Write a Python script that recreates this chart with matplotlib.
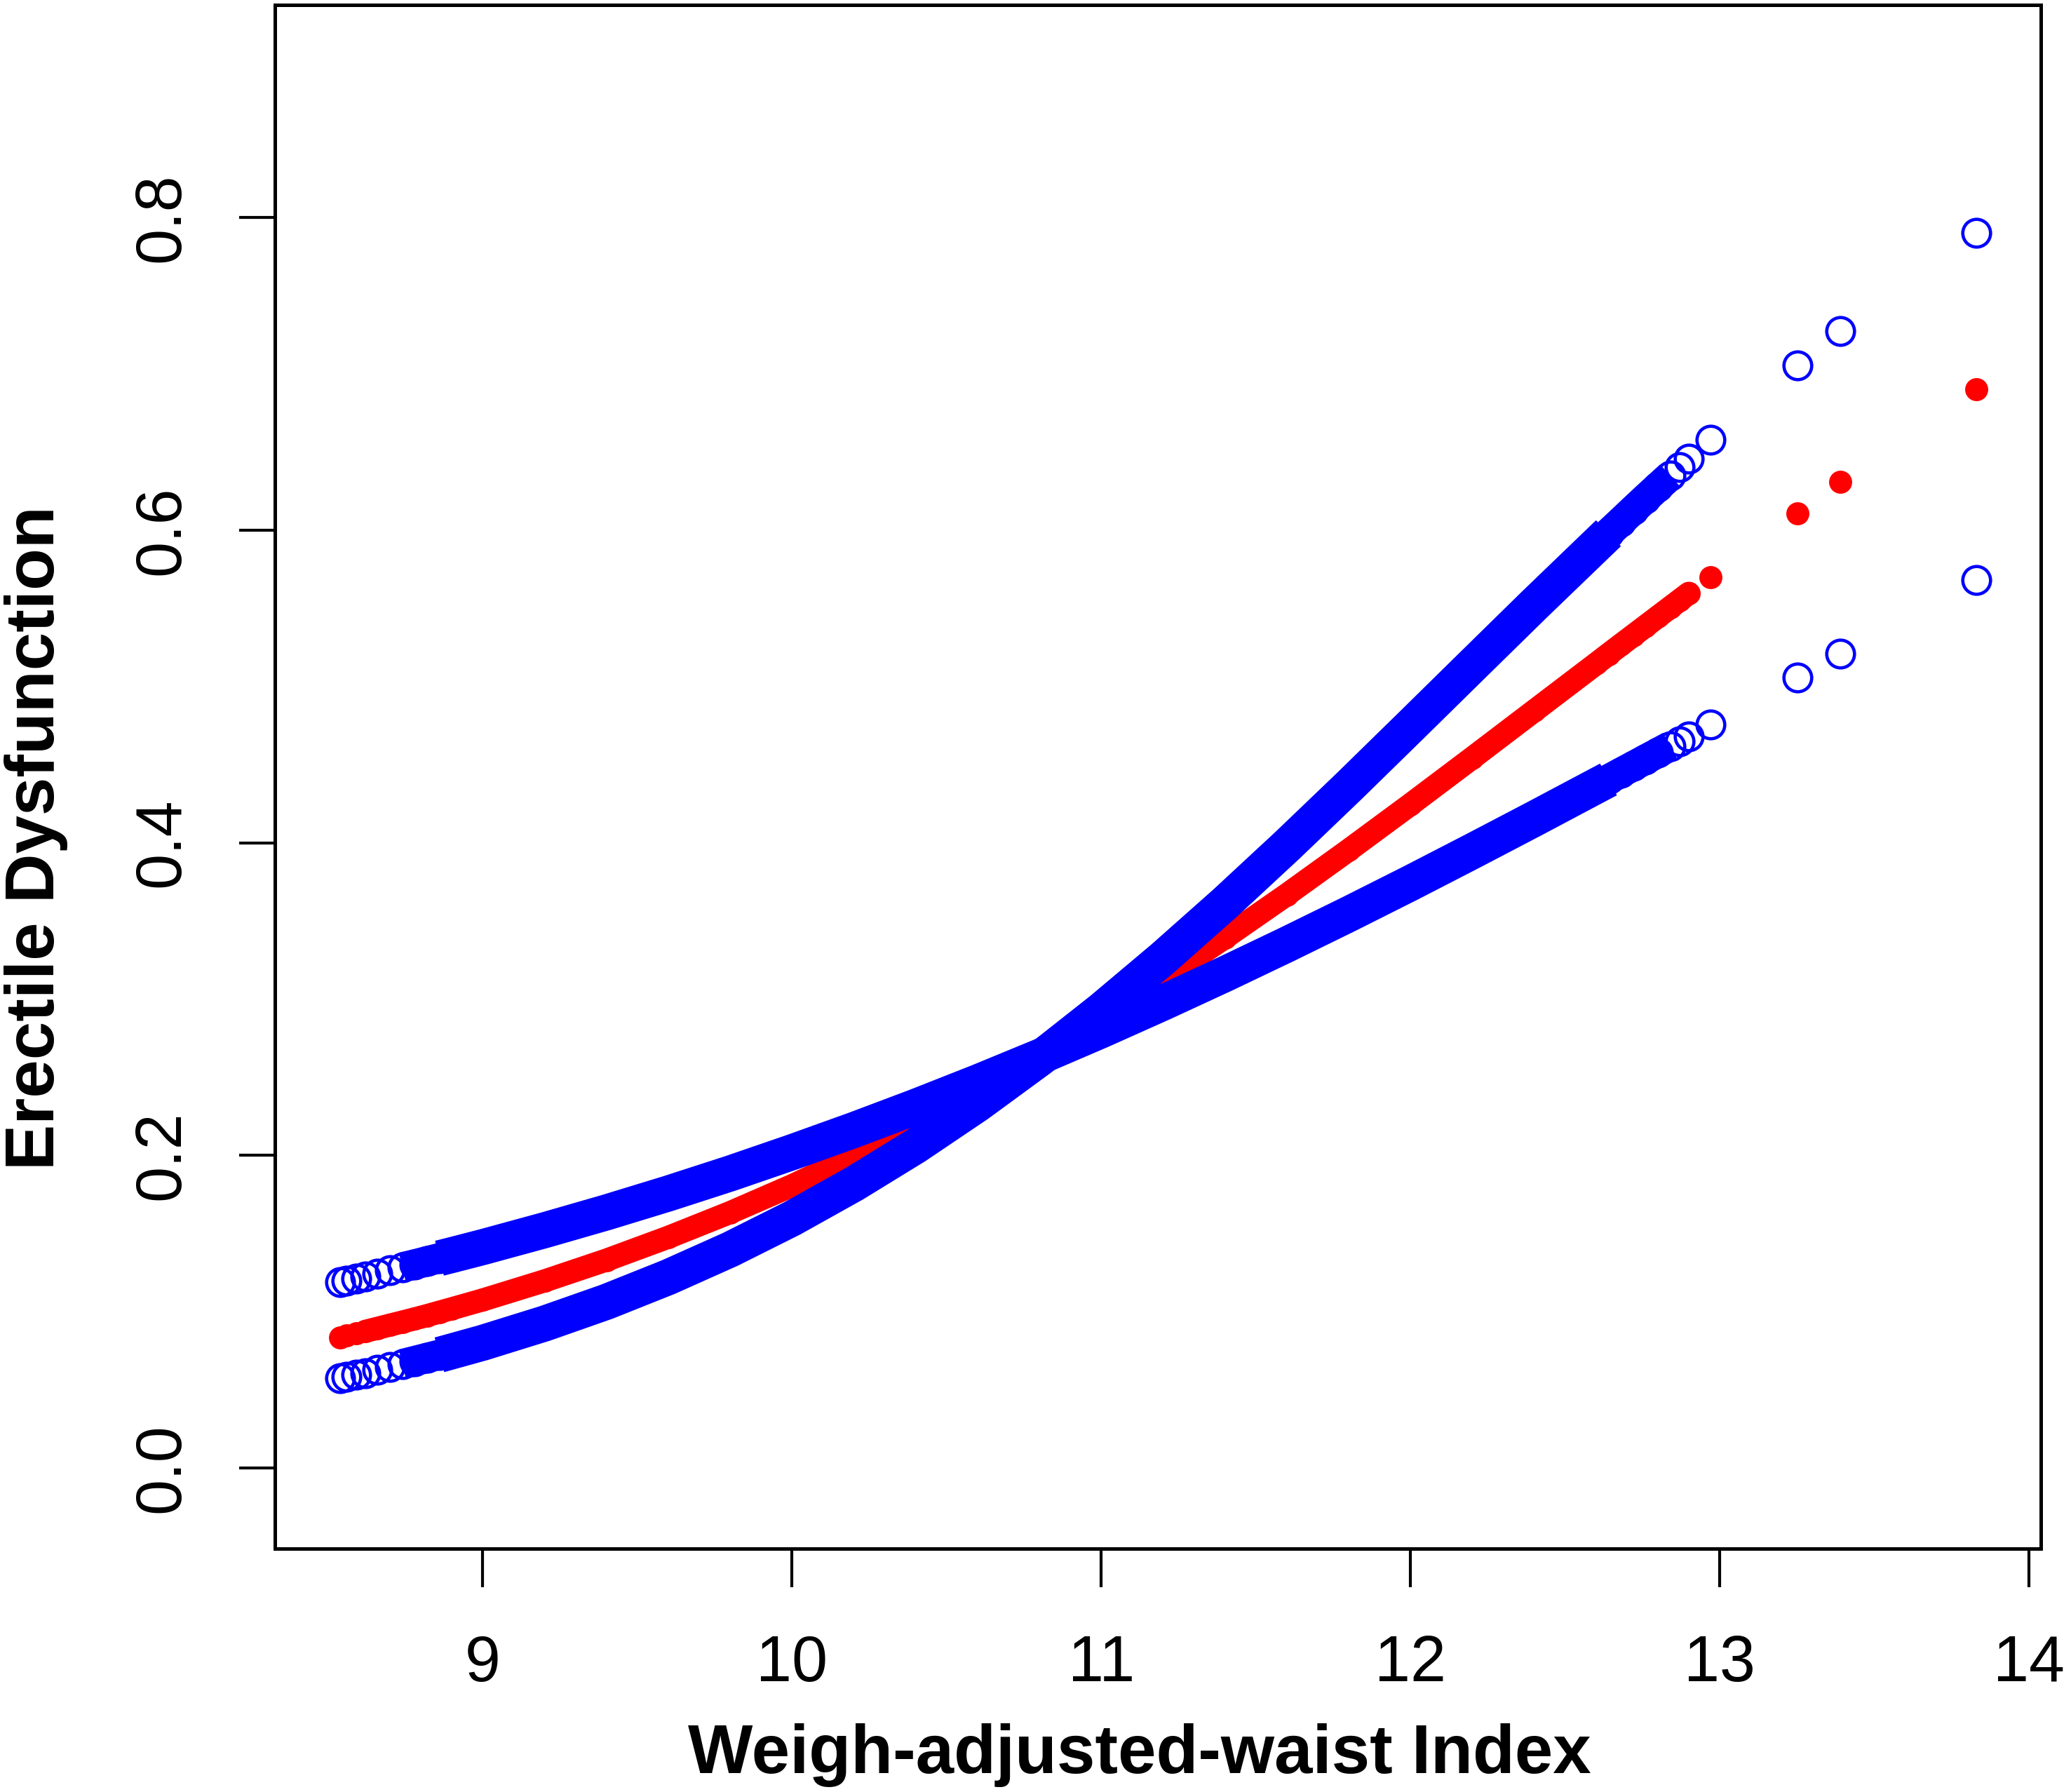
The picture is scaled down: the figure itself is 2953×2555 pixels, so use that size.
import matplotlib
matplotlib.use("Agg")
import matplotlib.pyplot as plt
import numpy as np

# Weight-adjusted-waist index (x) and predicted probability with its two confidence bounds
wwi = [8.54, 8.56, 8.59, 8.62, 8.66, 8.70, 8.74, 8.78, 8.82, 8.86, 8.90,
       9.0, 9.2, 9.4, 9.6, 9.8, 10.0, 10.2, 10.4, 10.6, 10.8,
       11.0, 11.2, 11.4, 11.6, 11.8, 12.0, 12.2, 12.4, 12.6,
       12.64, 12.68, 12.72, 12.76, 12.80, 12.84, 12.87, 12.90, 12.97,
       13.25, 13.39, 13.83]

pred = [0.0836, 0.0846, 0.0860, 0.0874, 0.0894, 0.0914, 0.0934, 0.0954, 0.0975, 0.0997, 0.1019,
        0.1075, 0.1197, 0.1330, 0.1476, 0.1634, 0.1806, 0.1992, 0.2192, 0.2405, 0.2633,
        0.2874, 0.3127, 0.3393, 0.3668, 0.3953, 0.4245, 0.4543, 0.4844, 0.5145,
        0.5206, 0.5266, 0.5326, 0.5386, 0.5446, 0.5506, 0.5551, 0.5596, 0.5700,
        0.6108, 0.6307, 0.6903]

ci_a = [0.1190, 0.1199, 0.1213, 0.1227, 0.1245, 0.1264, 0.1283, 0.1302, 0.1322, 0.1342, 0.1362,
        0.1413, 0.1521, 0.1635, 0.1756, 0.1884, 0.2020, 0.2162, 0.2311, 0.2467, 0.2630,
        0.2800, 0.2977, 0.3160, 0.3349, 0.3543, 0.3742, 0.3946, 0.4153, 0.4363,
        0.4405, 0.4448, 0.4490, 0.4533, 0.4575, 0.4618, 0.4650, 0.4682, 0.4757,
        0.5058, 0.5209, 0.5679]

ci_b = [0.0574, 0.0582, 0.0595, 0.0608, 0.0626, 0.0645, 0.0664, 0.0684, 0.0704, 0.0724, 0.0746,
        0.0801, 0.0924, 0.1063, 0.1221, 0.1398, 0.1596, 0.1817, 0.2060, 0.2327, 0.2617,
        0.2929, 0.3262, 0.3613, 0.3980, 0.4359, 0.4746, 0.5135, 0.5523, 0.5904,
        0.5980, 0.6054, 0.6129, 0.6203, 0.6276, 0.6348, 0.6402, 0.6456, 0.6580,
        0.7053, 0.7274, 0.7900]

x_ticks = [9, 10, 11, 12, 13, 14]
y_ticks = [0.0, 0.2, 0.4, 0.6, 0.8]
y_tick_labels = ["0.0", "0.2", "0.4", "0.6", "0.8"]
x_label = "Weigh-adjusted-waist Index"
y_label = "Erectile Dysfunction"

plt.rcParams['font.family'] = ['Liberation Sans', 'DejaVu Sans']

W, H = 2953, 2555
fig = plt.figure(figsize=(W / 300, H / 300), dpi=300)
ax = fig.add_axes([392 / W, 1 - 2208 / H, (2910 - 392) / W, (2208 - 7) / H])

BLUE = '#0000FF'
RED = '#FF0000'

x = np.array(wwi)
band_outer = (x >= 8.74) & (x <= 12.84)   # where the circles merge into a solid band
band_core = (x >= 8.86) & (x <= 12.64)    # densest part, slightly wider band
red_band = (x >= 8.60) & (x <= 12.92)

p = np.array(pred)
ax.plot(x[red_band], p[red_band], color=RED, lw=7.9, solid_capstyle='round',
        solid_joinstyle='round', zorder=2)
ax.plot(x, p, 'o', ms=7.9, mew=0, color=RED, zorder=2)

for ci in (ci_a, ci_b):
    y = np.array(ci)
    ax.plot(x[band_outer], y[band_outer], color=BLUE, lw=10.4, solid_capstyle='butt',
            solid_joinstyle='round', zorder=3)
    ax.plot(x[band_core], y[band_core], color=BLUE, lw=12.3, solid_capstyle='butt',
            solid_joinstyle='round', zorder=3)
    ax.plot(x, y, 'o', ms=9.5, mew=1.1, mfc='none', mec=BLUE, zorder=3)

ax.set_xlim(8.328, 14.038)
ax.set_ylim(-0.0516, 0.936)

ax.set_xticks(x_ticks)
ax.set_xticklabels([str(t) for t in x_ticks], fontsize=22)
ax.set_yticks(y_ticks)
ax.set_yticklabels(y_tick_labels, fontsize=22, rotation=90, va='center')

ax.tick_params(axis='x', direction='out', length=13.2, width=1.0, pad=16, colors='black')
ax.tick_params(axis='y', direction='out', length=12.2, width=1.0, pad=16, colors='black')
for s in ax.spines.values():
    s.set_linewidth(1.2)
    s.set_color('black')

fig.text(1625 / W, 1 - 2528 / H, x_label, ha='center', va='baseline',
         fontsize=23.5, fontweight='bold')
fig.text(51.5 / W, 1 - 1195 / H, y_label, ha='center', va='center', rotation=90,
         fontsize=23.5, fontweight='bold')

fig.savefig('out.png', dpi=300, facecolor='white')
